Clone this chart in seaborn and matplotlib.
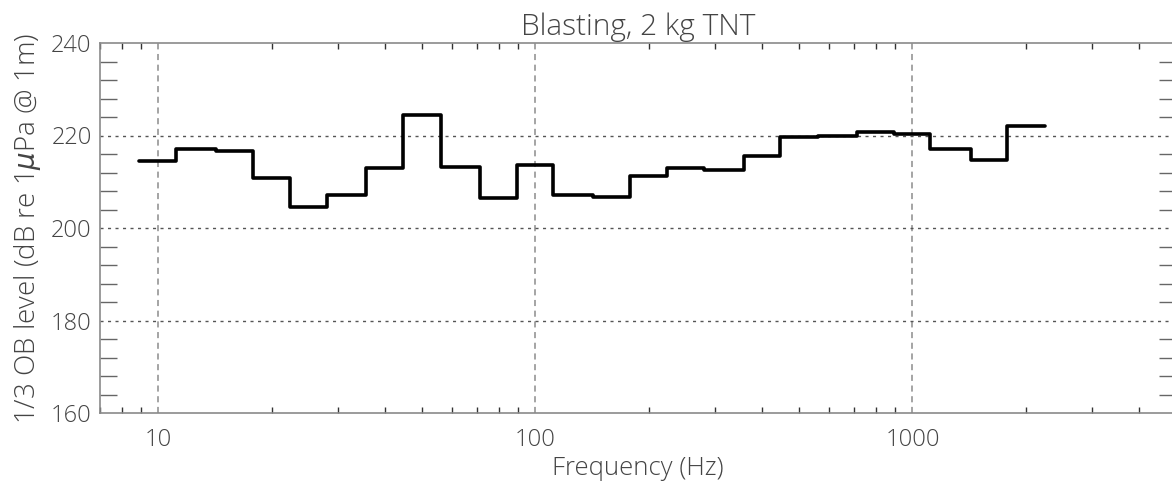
import numpy as np
import pandas as pd
import matplotlib
matplotlib.use("Agg")
import matplotlib.pyplot as plt
import seaborn as sns
from matplotlib.ticker import FixedLocator, NullFormatter

# ---- data ----
band_centers = [10, 12.5, 16, 20, 25, 31.5, 40, 50, 63, 80, 100, 125, 160, 200,
                250, 315, 400, 500, 630, 800, 1000, 1250, 1600, 2000]
levels = [214.4, 217.0, 216.7, 210.8, 204.5, 207.1, 212.9, 224.5, 213.1, 206.4,
          213.7, 207.1, 206.6, 211.3, 212.9, 212.6, 215.6, 219.6, 219.8, 220.7,
          220.4, 217.1, 214.6, 222.0]
x_ticks = [10, 100, 1000]
x_tick_labels = ["10", "100", "1000"]
y_ticks = [160, 180, 200, 220, 240]
y_tick_labels = ["160", "180", "200", "220", "240"]
title = "Blasting, 2 kg TNT"
xlabel = "Frequency (Hz)"
ylabel = r"1/3 OB level (dB re 1$\mu$Pa @ 1m)"

# band edges of the 1/3-octave bands (geometric)
centers = np.array(band_centers, dtype=float)
edges = np.concatenate([centers * 2 ** (-1 / 6), [centers[-1] * 2 ** (1 / 6)]])
df = pd.DataFrame({"f": edges, "L": list(levels) + [levels[-1]]})

sns.set_theme(style="white")
plt.rcParams["font.family"] = ["Open Sans", "DejaVu Sans"]
plt.rcParams["font.weight"] = "light"
plt.rcParams["mathtext.fontset"] = "dejavusans"

W, H = 1172, 488
fig = plt.figure(figsize=(W / 100, H / 100), dpi=100)
fig.patch.set_facecolor("white")
ax = fig.add_axes([100 / W, 75 / H, 1076 / W, 370 / H])
ax.set_facecolor("white")

sns.lineplot(data=df, x="f", y="L", ax=ax, drawstyle="steps-post", sort=False,
             estimator=None, color="black", linewidth=2.6, zorder=5)

ax.set_xscale("log")
ax.set_xlim(7, 5000)
ax.set_ylim(160, 240)

txt_color = "#444444"
for xv in x_ticks:
    ax.axvline(xv, color="#8c8c8c", linewidth=1.1, linestyle=(0, (4, 3)), zorder=1)
for yv in y_ticks[1:-1]:
    ax.axhline(yv, color="#555555", linewidth=1.0, linestyle=(0, (2.2, 3.2)), zorder=1)

ax.xaxis.set_major_locator(FixedLocator(x_ticks))
ax.set_xticklabels(x_tick_labels)
minor_x = [m * d for d in [1, 10, 100, 1000] for m in range(2, 10)]
ax.xaxis.set_minor_locator(FixedLocator(minor_x))
ax.xaxis.set_minor_formatter(NullFormatter())
ax.yaxis.set_major_locator(FixedLocator(y_ticks))
ax.set_yticklabels(y_tick_labels)
ax.yaxis.set_minor_locator(FixedLocator(list(range(164, 240, 4))))

ax.tick_params(axis="x", which="major", length=0, pad=11, labelsize=17, labelcolor=txt_color)
ax.tick_params(axis="x", which="minor", length=4.5, width=1.0, color="#333333",
               direction="in", top=True, bottom=True)
ax.tick_params(axis="y", which="major", length=0, pad=6, labelsize=17, labelcolor=txt_color)
ax.tick_params(axis="y", which="minor", length=12.5, width=1.0, color="#666666",
               direction="in", left=True, right=True)

for s in ax.spines.values():
    s.set_color("#8a8a8a")
    s.set_linewidth(1.2)
    s.set_visible(True)

ax.set_title(title, fontsize=21.5, color=txt_color, pad=6, fontweight="light")
ax.set_xlabel(xlabel, fontsize=18.5, color=txt_color, labelpad=3, fontweight="light")
ax.set_ylabel(ylabel, fontsize=20, color=txt_color, labelpad=6, fontweight="light")

fig.savefig("out.png", dpi=100, facecolor="white")
